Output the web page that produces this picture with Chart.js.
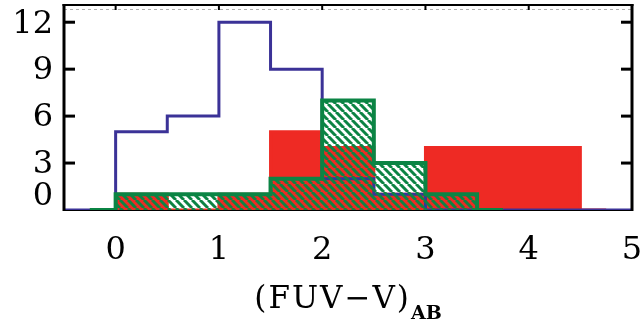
<!DOCTYPE html>
<html>
<head>
<meta charset="utf-8">
<script src="https://cdn.jsdelivr.net/npm/chart.js@4/dist/chart.umd.min.js"></script>
<style>
html,body{margin:0;padding:0;background:#fff;}
#wrap{width:644px;height:323px;}
</style>
</head>
<body>
<div id="wrap"><canvas id="c" width="644" height="323"></canvas></div>
<script>
// bin centres (bin width 0.5), histogram counts drawn IDL psym=10 style
const binCenters  = [-0.75,-0.25,0.25,0.75,1.25,1.75,2.25,2.75,3.25,3.75,4.25,4.75,5.25];
const allCounts   = [0, 0, 5, 6, 12, 9, 2, 1, 0, 0, 0, 0, 0];          // blue outline
const redCounts   = [null, 0, 1, 0, 1, 5, 4, 1, 4, 4, 4, 0, null];     // red filled
const greenCounts = [null, 0, 1, 1, 1, 2, 7, 3, 1, 0, null, null, null]; // green hatched
const xTickValues = [0, 1, 2, 3, 4, 5];
const yTickValues = [0, 3, 6, 9, 12];
const xTitle = "(FUV\u2212V)";
const xTitleSub = "AB";

const BLUE = '#3b3297';
const RED = '#ee2a24';
const GREEN = '#0b8444';

function pts(arr){ return binCenters.map((x,i)=>({x:x, y:arr[i]})); }

function hatch(){
  const s = 8;
  const c = document.createElement('canvas');
  c.width = s; c.height = s;
  const g = c.getContext('2d');
  g.strokeStyle = GREEN;
  g.lineWidth = 3;
  for (let k=-1;k<=1;k++){
    g.beginPath();
    g.moveTo(k*s, 0);
    g.lineTo(k*s + s, s);
    g.stroke();
  }
  return g.createPattern(c, 'repeat');
}

const SERIF = '"DejaVu Serif", "Liberation Serif", serif';

const framePlugin = {
  id: 'frame',
  beforeDatasetsDraw(chart){
    const {ctx, chartArea:a} = chart;
    ctx.save();
    ctx.strokeStyle = '#000';
    ctx.lineWidth = 2;
    ctx.beginPath(); ctx.moveTo(a.left, a.bottom); ctx.lineTo(a.right, a.bottom); ctx.stroke();
    ctx.strokeStyle = '#b0b0b0';
    ctx.lineWidth = 1;
    ctx.setLineDash([3,3]);
    ctx.beginPath(); ctx.moveTo(a.left, a.top+4.5); ctx.lineTo(a.right, a.top+4.5); ctx.stroke();
    ctx.setLineDash([]);
    ctx.restore();
  },
  afterDatasetsDraw(chart){
    const {ctx, chartArea:a, scales:{x,y}} = chart;
    ctx.save();
    ctx.strokeStyle = '#000';
    ctx.lineWidth = 2;
    ctx.beginPath(); ctx.moveTo(a.left-1.5, a.top); ctx.lineTo(a.right+1.5, a.top); ctx.stroke();
    ctx.lineWidth = 3;
    ctx.beginPath(); ctx.moveTo(a.left, a.top-1); ctx.lineTo(a.left, a.bottom+1); ctx.stroke();
    ctx.beginPath(); ctx.moveTo(a.right, a.top-1); ctx.lineTo(a.right, a.bottom+1); ctx.stroke();
    yTickValues.forEach(v=>{
      if (v===0) return;
      const py = y.getPixelForValue(v);
      ctx.beginPath(); ctx.moveTo(a.left, py); ctx.lineTo(a.left+11, py); ctx.stroke();
      ctx.beginPath(); ctx.moveTo(a.right, py); ctx.lineTo(a.right-11, py); ctx.stroke();
    });
    ctx.lineWidth = 2;
    xTickValues.forEach(v=>{
      const px = x.getPixelForValue(v);
      ctx.beginPath(); ctx.moveTo(px, a.top); ctx.lineTo(px, a.top+5); ctx.stroke();
    });
    ctx.fillStyle = '#000';
    ctx.font = '32px ' + SERIF;
    ctx.textAlign = 'right';
    ctx.textBaseline = 'middle';
    yTickValues.forEach(v=>{
      let py = y.getPixelForValue(v) + 2;
      py = Math.min(py, a.bottom - 13);
      ctx.fillText(String(v), a.left - 11, py);
    });
    ctx.textAlign = 'center';
    xTickValues.forEach(v=>{
      ctx.fillText(String(v), x.getPixelForValue(v), 251);
    });
    ctx.textBaseline = 'alphabetic';
    ctx.textAlign = 'left';
    const mainFont = '31px ' + SERIF, subFont = 'bold 19px ' + SERIF;
    ctx.font = mainFont;
    ctx.letterSpacing = '2px';
    const w1 = ctx.measureText(xTitle).width;
    ctx.font = subFont;
    ctx.letterSpacing = '0px';
    const w2 = ctx.measureText(xTitleSub).width;
    const cx = (a.left + a.right)/2;
    const start = cx - (w1 + w2)/2;
    ctx.font = mainFont;
    ctx.letterSpacing = '2px';
    ctx.fillText(xTitle, start, 308);
    ctx.font = subFont;
    ctx.letterSpacing = '0px';
    ctx.fillText(xTitleSub, start + w1, 319);
    ctx.restore();
  }
};

const common = {stepped:'middle', pointRadius:0, tension:0, borderJoinStyle:'miter', borderCapStyle:'butt'};

new Chart(document.getElementById('c'), {
  type: 'line',
  data: {
    datasets: [
      Object.assign({label:'green', data: pts(greenCounts), borderColor: GREEN, borderWidth: 4,
        backgroundColor: hatch(), fill: 'origin', order: 0}, common),
      Object.assign({label:'all', data: pts(allCounts), borderColor: BLUE, borderWidth: 3,
        fill: false, order: 1}, common),
      Object.assign({label:'red', data: pts(redCounts), borderColor: RED, borderWidth: 3,
        backgroundColor: RED, fill: 'origin', order: 2}, common)
    ]
  },
  options: {
    responsive: false,
    animation: false,
    events: [],
    layout: {padding: {left: 64, right: 12, top: 5, bottom: 113}},
    plugins: {legend: {display: false}, tooltip: {enabled: false}},
    scales: {
      x: {type: 'linear', min: -0.5, max: 5, display: false},
      y: {type: 'linear', min: 0, max: 13.1, display: false}
    }
  },
  plugins: [framePlugin]
});
</script>
</body>
</html>
